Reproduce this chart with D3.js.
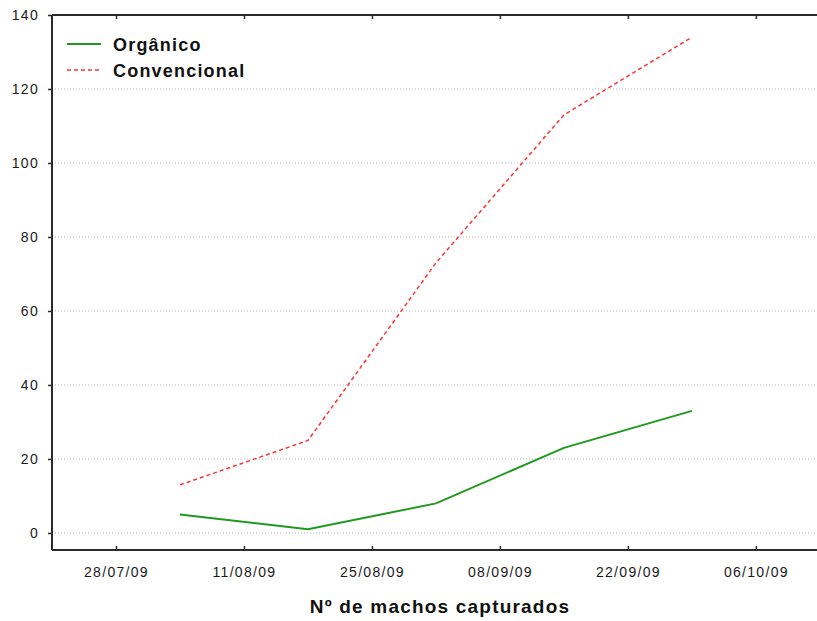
<!DOCTYPE html>
<html><head><meta charset="utf-8">
<script src="https://cdn.jsdelivr.net/npm/d3@7"></script>
<style>body{margin:0;background:#fff}svg{display:block}</style>
</head><body>
<svg id="c" width="817" height="621"></svg>
<script>
const dates = ["2009-08-04","2009-08-18","2009-09-01","2009-09-15","2009-09-29"];
const organico = [5, 1, 8, 23, 33];
const convencional = [13, 25, 73, 113, 134];
const xTicks = ["2009-07-28","2009-08-11","2009-08-25","2009-09-08","2009-09-22","2009-10-06"];
const yTicks = [0, 20, 40, 60, 80, 100, 120, 140];
const seriesNames = ["Orgânico", "Convencional"];
const xTitle = "Nº de machos capturados";

const parse = d3.utcParse("%Y-%m-%d");
const fmt = d3.utcFormat("%d/%m/%y");
const svg = d3.select("#c");
const L = 52, R = 829, T = 15, B = 550;
const x = d3.scaleUtc().domain([parse("2009-07-21"), parse("2009-10-14")]).range([L, R]);
const y = d3.scaleLinear().domain([-4.6, 140]).range([B, T]);

// gridlines
svg.append("g").selectAll("line").data(yTicks.filter(v => v < 140)).join("line")
  .attr("x1", L).attr("x2", 817).attr("y1", d => y(d)).attr("y2", d => y(d))
  .attr("stroke", "#b8b8b8").attr("stroke-width", 1).attr("stroke-dasharray", "1,2");

// axes
const yAxis = svg.append("g").attr("transform", `translate(${L},0)`)
  .call(d3.axisLeft(y).tickValues(yTicks).tickSize(4).tickSizeOuter(0).tickPadding(9));
const xAxis = svg.append("g").attr("transform", `translate(0,${B})`)
  .call(d3.axisBottom(x).tickValues(xTicks.map(parse)).tickFormat(fmt).tickSize(-4).tickSizeOuter(0).tickPadding(17));
const xTop = svg.append("g").attr("transform", `translate(0,${T})`)
  .call(d3.axisTop(x).tickValues(xTicks.map(parse)).tickFormat("").tickSize(-4).tickSizeOuter(0));
[yAxis, xAxis, xTop].forEach(g => {
  g.select(".domain").attr("stroke", "#2a2a2a").attr("stroke-width", 2);
  g.selectAll(".tick line").attr("stroke", "#2a2a2a").attr("stroke-width", 1.5);
  g.selectAll("text").attr("font-family", "Liberation Sans, Arial, sans-serif").attr("font-size", 14).attr("fill", "#1a1a1a");
});
yAxis.selectAll("text").attr("letter-spacing", 1.3);
xAxis.selectAll("text").attr("letter-spacing", 1.3);
yAxis.select(".domain").attr("d", `M0,${T}V${B}`);
xAxis.select(".domain").attr("d", `M${L},0H817`);
xTop.select(".domain").attr("d", `M${L},0H817`);

// lines
const line = d3.line().x((d, i) => x(parse(dates[i]))).y(d => y(d));
svg.append("path").datum(organico).attr("d", line).attr("fill", "none")
  .attr("stroke", "#1f9a1f").attr("stroke-width", 2);
svg.append("path").datum(convencional).attr("d", line).attr("fill", "none")
  .attr("stroke", "#ff3333").attr("stroke-width", 1.5).attr("stroke-dasharray", "4,3");

// legend
const lg = svg.append("g");
const styles = [{c: "#1f9a1f", w: 2, da: null}, {c: "#ff3333", w: 1.5, da: "4,3"}];
seriesNames.forEach((n, i) => {
  const yy = 44 + i * 26;
  lg.append("line").attr("x1", 67).attr("x2", 101).attr("y1", yy).attr("y2", yy)
    .attr("stroke", styles[i].c).attr("stroke-width", styles[i].w).attr("stroke-dasharray", styles[i].da);
  lg.append("text").attr("x", 113).attr("y", yy + 7).text(n)
    .attr("font-family", "Liberation Sans, Arial, sans-serif").attr("font-weight", "bold")
    .attr("font-size", 18).attr("letter-spacing", 1.2).attr("fill", "#111");
});

// title
svg.append("text").attr("x", 440).attr("y", 613).attr("text-anchor", "middle")
  .attr("font-family", "Liberation Sans, Arial, sans-serif").attr("font-weight", "bold")
  .attr("font-size", 19).attr("letter-spacing", 1.2).attr("fill", "#111").text(xTitle);
</script>
</body></html>
